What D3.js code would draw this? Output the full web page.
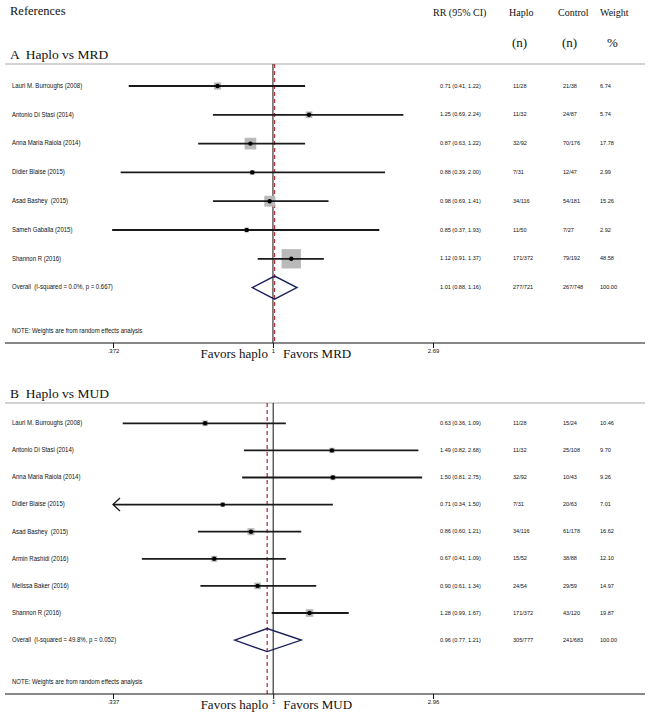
<!DOCTYPE html>
<html>
<head>
<meta charset="utf-8">
<script src="https://cdn.jsdelivr.net/npm/d3@7"></script>
<style>
  body { margin: 0; background: #fff; }
  svg text { fill: #111; white-space: pre; }
</style>
</head>
<body>
<div id="root"></div>
<script>
const width = 650,
      height = 717

// panel A: haplo vs MRD
const studiesA = ['Lauri M. Burroughs (2008)', 'Antonio Di Stasi (2014)', 'Anna Maria Raiola (2014)',
  'Didier Blaise (2015)', 'Asad Bashey  (2015)', 'Sameh Gaballa (2015)', 'Shannon R (2016)']
const rrA = [0.71, 1.25, 0.87, 0.88, 0.98, 0.85, 1.12]
const loA = [0.41, 0.69, 0.63, 0.39, 0.69, 0.37, 0.91]
const hiA = [1.22, 2.24, 1.22, 2.00, 1.41, 1.93, 1.37]
const haploA = ['11/28', '11/32', '32/92', '7/31', '34/116', '11/50', '171/372']
const controlA = ['21/38', '24/87', '70/176', '12/47', '54/181', '7/27', '79/192']
const weightA = [6.74, 5.74, 17.78, 2.99, 15.26, 2.92, 48.58]
const overallA = { label: 'Overall  (I-squared = 0.0%, p = 0.667)', rr: 1.01, lo: 0.88, hi: 1.16,
  haplo: '277/721', control: '267/748', weight: 100 }
const ticksA = [0.372, 1, 2.69]
const tickLabelsA = ['.372', '1', '2.69']

// panel B: haplo vs MUD
const studiesB = ['Lauri M. Burroughs (2008)', 'Antonio Di Stasi (2014)', 'Anna Maria Raiola (2014)',
  'Didier Blaise (2015)', 'Asad Bashey  (2015)', 'Armin Rashidi (2016)', 'Melissa Baker (2016)', 'Shannon R (2016)']
const rrB = [0.63, 1.49, 1.50, 0.71, 0.86, 0.67, 0.90, 1.28]
const loB = [0.36, 0.82, 0.81, 0.34, 0.60, 0.41, 0.61, 0.99]
const hiB = [1.09, 2.68, 2.75, 1.50, 1.21, 1.09, 1.34, 1.67]
const haploB = ['11/28', '11/32', '32/92', '7/31', '34/116', '15/52', '24/54', '171/372']
const controlB = ['15/24', '25/108', '10/43', '20/63', '61/178', '38/88', '29/59', '43/120']
const weightB = [10.46, 9.70, 9.26, 7.01, 16.62, 12.10, 14.97, 19.87]
const overallB = { label: 'Overall  (I-squared = 49.8%, p = 0.052)', rr: 0.96, lo: 0.77, hi: 1.21,
  haplo: '305/777', control: '241/683', weight: 100 }
const ticksB = [0.337, 1, 2.96]
const tickLabelsB = ['.337', '1', '2.96']
const clippedB = ['Didier Blaise (2015)']   // CI runs off the left of the axis

const svg = d3.select('#root')
  .append('svg')
  .attr('width', width)
  .attr('height', height)

const serif = 'Liberation Serif, Times New Roman, serif'
const sans = 'Liberation Sans, Arial, sans-serif'
const fmt = d3.format('.2f')

// small squeezed sans text, like the stata export
function small(g, x, y, str, size, sx) {
  g.append('text')
    .attr('transform', `translate(${x},${y}) scale(${sx},1)`)
    .attr('font-family', sans)
    .attr('font-size', size)
    .attr('dominant-baseline', 'middle')
    .text(str)
}
const label = (g, x, y, s) => small(g, x, y, s, 7, 0.86)
const num = (g, x, y, s) => small(g, x, y, s, 6.2, 0.9)

// column header (only on top)
const head = svg.append('g').attr('font-family', serif)
head.append('text').attr('x', 10).attr('y', 15).attr('font-size', 12.5).text('References')
head.append('text').attr('x', 433).attr('y', 16).attr('font-size', 10).text('RR (95% CI)')
head.append('text').attr('x', 509).attr('y', 16).attr('font-size', 10).text('Haplo')
head.append('text').attr('x', 558).attr('y', 16).attr('font-size', 10).text('Control')
head.append('text').attr('x', 600).attr('y', 16).attr('font-size', 10).text('Weight')
head.append('text').attr('x', 512).attr('y', 47).attr('font-size', 13).text('(n)')
head.append('text').attr('x', 562).attr('y', 47).attr('font-size', 13).text('(n)')
head.append('text').attr('x', 607).attr('y', 47).attr('font-size', 13).text('%')

function panel(cfg) {
  const g = svg.append('g')
  const x = d3.scaleLog().domain(cfg.domain).range([113, 433])
  const rows = cfg.studies.map((s, i) => ({
    name: s, rr: cfg.rr[i], lo: cfg.lo[i], hi: cfg.hi[i],
    haplo: cfg.haplo[i], control: cfg.control[i], weight: cfg.weight[i]
  }))
  const y = d3.scalePoint()
    .domain(d3.range(rows.length + 1))
    .range([cfg.top, cfg.top + cfg.step * rows.length])

  g.append('text')
    .attr('x', 10).attr('y', cfg.titleY)
    .attr('font-family', serif).attr('font-size', 13.5)
    .text(cfg.title)

  g.append('line')
    .attr('x1', 5).attr('x2', 645)
    .attr('y1', cfg.rule).attr('y2', cfg.rule)
    .attr('stroke', '#c4c4c4').attr('stroke-width', 1.3)

  // null line and overall line
  g.append('line')
    .attr('x1', x(1)).attr('x2', x(1))
    .attr('y1', cfg.rule).attr('y2', cfg.axisY)
    .attr('stroke', '#111').attr('stroke-width', 1)
  g.append('line')
    .attr('x1', x(cfg.overall.rr)).attr('x2', x(cfg.overall.rr))
    .attr('y1', cfg.rule).attr('y2', cfg.axisY)
    .attr('stroke', '#b8333a').attr('stroke-width', 1.3)
    .attr('stroke-dasharray', '4,3')

  const lo = d3.min(cfg.domain)
  const row = g.selectAll('g.row')
    .data(rows)
    .enter().append('g')
    .attr('class', 'row')
    .attr('transform', (d, i) => `translate(0,${y(i)})`)

  row.append('rect')
    .attr('x', d => x(d.rr) - cfg.box * Math.sqrt(d.weight) / 2)
    .attr('y', d => -cfg.box * Math.sqrt(d.weight) / 2)
    .attr('width', d => cfg.box * Math.sqrt(d.weight))
    .attr('height', d => cfg.box * Math.sqrt(d.weight))
    .attr('fill', '#b9b9b9')

  row.append('line')
    .attr('x1', d => cfg.clipped.includes(d.name) ? x(lo) : x(d.lo))
    .attr('x2', d => x(d.hi))
    .attr('stroke', '#1a1a1a').attr('stroke-width', 1.8)

  row.filter(d => cfg.clipped.includes(d.name))
    .append('path')
    .attr('d', `M${x(lo) + 7},-6.5L${x(lo)},0L${x(lo) + 7},6.5`)
    .attr('fill', 'none').attr('stroke', '#1a1a1a').attr('stroke-width', 1.3)

  row.append('circle')
    .attr('cx', d => x(d.rr))
    .attr('r', 2.2)
    .attr('fill', '#000')

  row.each(function(d) {
    const r = d3.select(this)
    label(r, 12, 0, d.name)
    num(r, 440, 0, `${fmt(d.rr)} (${fmt(d.lo)}, ${fmt(d.hi)})`)
    num(r, 513, 0, d.haplo)
    num(r, 563, 0, d.control)
    num(r, 600, 0, fmt(d.weight))
  })

  // overall diamond
  const o = cfg.overall
  const oy = y(rows.length)
  g.append('path')
    .attr('d', `M${x(o.lo)},${oy}L${x(o.rr)},${oy - 11.5}L${x(o.hi)},${oy}L${x(o.rr)},${oy + 11.5}Z`)
    .attr('fill', 'none').attr('stroke', '#1b1f5c').attr('stroke-width', 1.4)
  label(g, 12, oy, o.label)
  num(g, 440, oy, `${fmt(o.rr)} (${fmt(o.lo)}, ${fmt(o.hi)})`)
  num(g, 513, oy, o.haplo)
  num(g, 563, oy, o.control)
  num(g, 600, oy, fmt(o.weight))

  label(g, 12, cfg.noteY, 'NOTE: Weights are from random effects analysis')

  // axis
  const axis = g.append('g')
    .attr('transform', `translate(0,${cfg.axisY})`)
    .call(d3.axisBottom(x)
      .tickValues(cfg.ticks)
      .tickFormat((d, i) => cfg.tickLabels[i])
      .tickSize(5)
      .tickSizeOuter(0))
  axis.select('.domain').remove()
  axis.selectAll('.tick line').attr('stroke', '#111')
  axis.selectAll('.tick text')
    .attr('font-family', sans).attr('font-size', 6)
    .attr('dy', '0.3em').attr('fill', '#111')
  axis.append('line')
    .attr('x1', 5).attr('x2', 645)
    .attr('stroke', '#111').attr('stroke-width', 1.2)

  g.append('text')
    .attr('x', x(1) - 5).attr('y', cfg.axisY + 15)
    .attr('text-anchor', 'end')
    .attr('font-family', serif).attr('font-size', 13)
    .text('Favors haplo')
  g.append('text')
    .attr('x', x(1) + 10).attr('y', cfg.axisY + 15)
    .attr('font-family', serif).attr('font-size', 13)
    .text(cfg.favors)
}

panel({
  title: 'A  Haplo vs MRD', titleY: 59, rule: 64, top: 86, step: 28.8,
  noteY: 331, axisY: 343, domain: [0.372, 2.69], box: 2.77,
  studies: studiesA, rr: rrA, lo: loA, hi: hiA, haplo: haploA, control: controlA, weight: weightA,
  overall: overallA, ticks: ticksA, tickLabels: tickLabelsA, clipped: [], favors: 'Favors MRD'
})

panel({
  title: 'B  Haplo vs MUD', titleY: 398, rule: 403, top: 423.3, step: 27.1,
  noteY: 682, axisY: 694, domain: [0.337, 2.96], box: 1.73,
  studies: studiesB, rr: rrB, lo: loB, hi: hiB, haplo: haploB, control: controlB, weight: weightB,
  overall: overallB, ticks: ticksB, tickLabels: tickLabelsB, clipped: clippedB, favors: 'Favors MUD'
})
</script>
</body>
</html>
